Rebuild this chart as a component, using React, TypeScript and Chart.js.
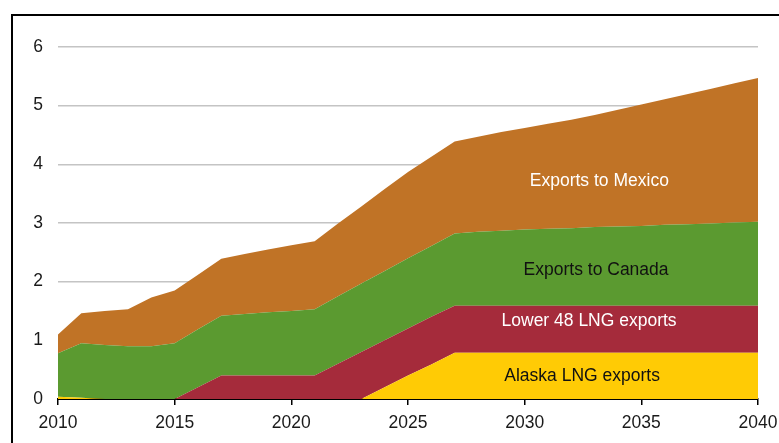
import React, { useEffect, useRef } from "react";
import { Chart, registerables } from "chart.js";

Chart.register(...registerables);

const years: number[] = [
  2010, 2011, 2012, 2013, 2014, 2015, 2016, 2017, 2018, 2019, 2020,
  2021, 2022, 2023, 2024, 2025, 2026, 2027, 2028, 2029, 2030,
  2031, 2032, 2033, 2034, 2035, 2036, 2037, 2038, 2039, 2040,
];

const alaskaLNG: number[] = [
  0.04, 0.02, 0, 0, 0, 0, 0, 0, 0, 0, 0,
  0, 0, 0, 0.2, 0.4, 0.59, 0.79, 0.79, 0.79, 0.79,
  0.79, 0.79, 0.79, 0.79, 0.79, 0.79, 0.79, 0.79, 0.79, 0.79,
];

const lower48LNG: number[] = [
  0, 0, 0, 0, 0, 0, 0.2, 0.4, 0.4, 0.4, 0.4,
  0.4, 0.6, 0.8, 0.8, 0.8, 0.81, 0.8, 0.8, 0.8, 0.8,
  0.8, 0.8, 0.8, 0.8, 0.8, 0.8, 0.8, 0.8, 0.8, 0.8,
];

const exportsCanada: number[] = [
  0.74, 0.93, 0.92, 0.9, 0.9, 0.95, 0.99, 1.02, 1.05, 1.08, 1.1,
  1.13, 1.15, 1.17, 1.18, 1.2, 1.21, 1.23, 1.26, 1.28, 1.3,
  1.31, 1.32, 1.34, 1.35, 1.36, 1.38, 1.39, 1.4, 1.42, 1.43,
];

const exportsMexico: number[] = [
  0.32, 0.51, 0.58, 0.63, 0.83, 0.9, 0.93, 0.97, 1.02, 1.07, 1.12,
  1.16, 1.24, 1.31, 1.4, 1.47, 1.52, 1.57, 1.62, 1.68, 1.73,
  1.79, 1.85, 1.91, 1.99, 2.07, 2.14, 2.22, 2.3, 2.37, 2.45,
];

const yTicks: number[] = [0, 1, 2, 3, 4, 5, 6];

const seriesNames: string[] = [
  "Alaska LNG exports",
  "Lower 48 LNG exports",
  "Exports to Canada",
  "Exports to Mexico",
];

const FONT = "'Liberation Sans', Arial, sans-serif";

const bandLabels = [
  { text: "Exports to Mexico", year: 2033.2, value: 3.72, color: "#ffffff" },
  { text: "Exports to Canada", year: 2033.06, value: 2.19, color: "#111111" },
  { text: "Lower 48 LNG exports", year: 2032.76, value: 1.32, color: "#ffffff" },
  { text: "Alaska LNG exports", year: 2032.46, value: 0.39, color: "#111111" },
];

const labelPlugin = {
  id: "bandLabels",
  afterDatasetsDraw(chart: any) {
    const { ctx, scales } = chart;
    ctx.save();
    ctx.font = `17.5px ${FONT}`;
    ctx.textAlign = "center";
    ctx.textBaseline = "middle";
    for (const l of bandLabels) {
      const x = scales.x.getPixelForValue(l.year - years[0]);
      const y = scales.y.getPixelForValue(l.value);
      ctx.fillStyle = l.color;
      ctx.fillText(l.text, x, y);
    }
    ctx.restore();
  },
};

export default function App() {
  const ref = useRef<HTMLCanvasElement>(null);

  useEffect(() => {
    if (!ref.current) return;
    const colors = ["#FFCB05", "#A52B3B", "#5B9A30", "#C07326"];
    const values = [alaskaLNG, lower48LNG, exportsCanada, exportsMexico];
    const chart = new Chart(ref.current, {
      type: "line",
      data: {
        labels: years.map(String),
        datasets: values.map((v, i) => ({
          label: seriesNames[i],
          data: v,
          backgroundColor: colors[i],
          borderColor: colors[i],
          borderWidth: 0,
          pointRadius: 0,
          tension: 0,
          fill: i === 0 ? "origin" : "-1",
        })),
      },
      options: {
        animation: false,
        responsive: false,
        devicePixelRatio: 1,
        layout: { padding: { left: 0, right: 21, top: 47, bottom: 0 } },
        plugins: {
          legend: { display: false },
          tooltip: { enabled: false },
        },
        scales: {
          x: {
            type: "category",
            offset: false,
            grid: {
              drawOnChartArea: false,
              drawTicks: true,
              tickLength: 6,
              color: "#000000",
              lineWidth: 1.5,
            },
            border: { display: true, color: "#000000", width: 2 },
            ticks: {
              autoSkip: false,
              maxRotation: 0,
              minRotation: 0,
              padding: 8,
              color: "#1a1a1a",
              font: { family: FONT, size: 17.5 },
              callback: (_v: any, idx: number) =>
                years[idx] % 5 === 0 ? String(years[idx]) : null,
            },
            afterFit: (s: any) => {
              s.height = 44;
              s.paddingLeft = 0;
              s.paddingRight = 0;
            },
          },
          y: {
            stacked: true,
            min: 0,
            max: 6,
            afterBuildTicks: (s: any) => {
              s.ticks = yTicks.map((v) => ({ value: v }));
            },
            grid: {
              drawTicks: false,
              color: "#c4c4c4",
              lineWidth: 1.5,
            },
            border: { display: false },
            ticks: {
              padding: 15,
              color: "#1a1a1a",
              font: { family: FONT, size: 17.5 },
            },
            afterFit: (s: any) => {
              s.width = 58;
            },
          },
        },
      },
      plugins: [labelPlugin],
    });
    return () => chart.destroy();
  }, []);

  return (
    <div
      style={{
        position: "fixed",
        left: 0,
        top: 0,
        width: 779,
        height: 443,
        overflow: "hidden",
        background: "#ffffff",
      }}
    >
      <div
        style={{
          position: "absolute",
          left: 11,
          top: 14,
          width: 900,
          height: 600,
          borderLeft: "2px solid #000",
          borderTop: "2px solid #000",
        }}
      />
      <canvas
        ref={ref}
        width={779}
        height={443}
        style={{ position: "absolute", left: 0, top: 0 }}
      />
    </div>
  );
}
